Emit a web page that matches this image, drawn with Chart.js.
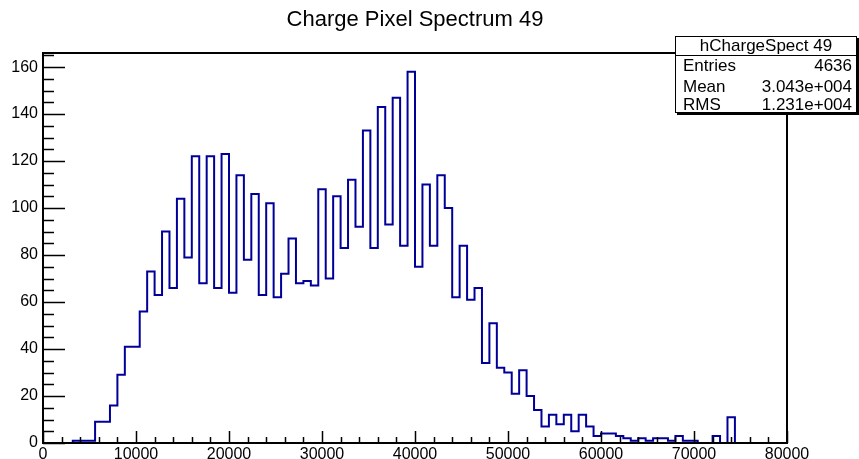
<!DOCTYPE html>
<html><head><meta charset="utf-8">
<script src="https://cdn.jsdelivr.net/npm/chart.js@4.4.1/dist/chart.umd.min.js"></script>
<style>html,body{margin:0;padding:0;background:#fff;}#wrap{width:859px;height:459px;position:relative;}</style>
</head><body><div id="wrap"><canvas id="c" width="859" height="459"></canvas></div>
<script>
// ---- data ----
const chartTitle = 'Charge Pixel Spectrum 49';
const histName = 'hChargeSpect 49';
const xMin = 0, xMax = 80000, binWidth = 800;
const counts = [
  0,0,0,0,1,1,1,9,9,16,
  29,41,41,56,73,63,90,66,104,79,
  122,68,122,66,123,64,114,78,106,63,
  102,62,72,87,68,69,67,108,70,105,
  83,112,92,133,83,143,93,147,84,158,
  75,110,84,114,100,62,84,61,66,34,
  51,32,30,21,31,20,14,7,12,8,
  12,5,12,7,3,4,4,3,2,1,
  2,1,2,2,1,3,1,1,0,0,
  3,0,11,0,0,0,0,0,0,0
];
const xTickLabels = [0,10000,20000,30000,40000,50000,60000,70000,80000];
const yTickLabels = [0,20,40,60,80,100,120,140,160];
const yMax = 166;
const statLabels = ['Entries','Mean','RMS'];
const statValues = ['4636','3.043e+004','1.231e+004'];

const FONT = "'Liberation Sans', Arial, Helvetica, sans-serif";
const points = counts.map((c,i)=>({x: xMin + i*binWidth, y: c}));
points.push({x: xMax, y: counts[counts.length-1]});

const framePlugin = {
  id: 'rootFrame',
  afterDraw(chart){
    const {ctx, chartArea: a, scales:{x, y}} = chart;
    ctx.save();
    ctx.strokeStyle = '#000';
    ctx.lineWidth = 1.5;
    // x ticks (inside)
    ctx.beginPath();
    for (let v = xMin; v <= xMax; v += 2000){
      const px = Math.round(x.getPixelForValue(v)) + 0.5;
      const len = (v % 10000 === 0) ? 12 : 6;
      ctx.moveTo(px, a.bottom); ctx.lineTo(px, a.bottom - len);
    }
    // y ticks (inside)
    for (let v = 0; v <= yMax; v += 5){
      const py = Math.round(y.getPixelForValue(v)) + 0.5;
      const len = (v % 20 === 0) ? 22 : 11;
      ctx.moveTo(a.left, py); ctx.lineTo(a.left + len, py);
    }
    ctx.stroke();
    // frame
    ctx.lineWidth = 2;
    ctx.strokeRect(a.left, a.top, a.right - a.left, a.bottom - a.top);
    // stats box
    const bx = 675, by = 36, bw = 182, bh = 77;
    ctx.fillStyle = '#000';
    ctx.fillRect(bx + 2, by + 2, bw, bh);
    ctx.fillStyle = '#fff';
    ctx.fillRect(bx, by, bw, bh);
    ctx.lineWidth = 1;
    ctx.strokeRect(bx + 0.5, by + 0.5, bw - 1, bh - 1);
    ctx.beginPath();
    ctx.moveTo(bx, by + 19.5); ctx.lineTo(bx + bw, by + 19.5);
    ctx.stroke();
    ctx.fillStyle = '#000';
    ctx.font = '17px ' + FONT;
    ctx.textBaseline = 'middle';
    ctx.textAlign = 'center';
    ctx.fillText(histName, bx + bw/2, by + 10.5);
    const rowsY = [66, 87, 105];
    statLabels.forEach((l, i) => {
      ctx.textAlign = 'left';
      ctx.fillText(l, 683, rowsY[i]);
      ctx.textAlign = 'right';
      ctx.fillText(statValues[i], 852, rowsY[i]);
    });
    ctx.restore();
  }
};

new Chart(document.getElementById('c'), {
  type: 'line',
  data: {
    datasets: [{
      data: points,
      stepped: 'before',
      borderColor: '#000099',
      borderWidth: 2,
      pointRadius: 0,
      fill: false,
      tension: 0
    }]
  },
  options: {
    responsive: false,
    devicePixelRatio: 1,
    animation: false,
    layout: { padding: { top: 0, right: 72, left: 0, bottom: 0 } },
    plugins: {
      legend: { display: false },
      tooltip: { enabled: false },
      title: {
        display: true,
        text: chartTitle,
        fullSize: false,
        color: '#000',
        font: { family: FONT, size: 22, weight: 'normal' },
        padding: { top: 7, bottom: 19.6 }
      }
    },
    scales: {
      x: {
        type: 'linear', min: xMin, max: xMax,
        grid: { display: false, drawTicks: false },
        border: { display: false },
        afterBuildTicks: s => { s.ticks = xTickLabels.map(v => ({value: v})); },
        afterFit: s => { s.height = 16; },
        ticks: {
          autoSkip: false, maxRotation: 0, padding: 2,
          color: '#000', font: { family: FONT, size: 16 },
          callback: v => String(v)
        }
      },
      y: {
        type: 'linear', min: 0, max: yMax,
        grid: { display: false, drawTicks: false },
        border: { display: false },
        afterBuildTicks: s => { s.ticks = yTickLabels.map(v => ({value: v})); },
        afterFit: s => { s.width = 43; },
        ticks: {
          padding: 5, color: '#000', font: { family: FONT, size: 16 },
          callback: v => String(v)
        }
      }
    }
  },
  plugins: [framePlugin]
});
</script></body></html>
